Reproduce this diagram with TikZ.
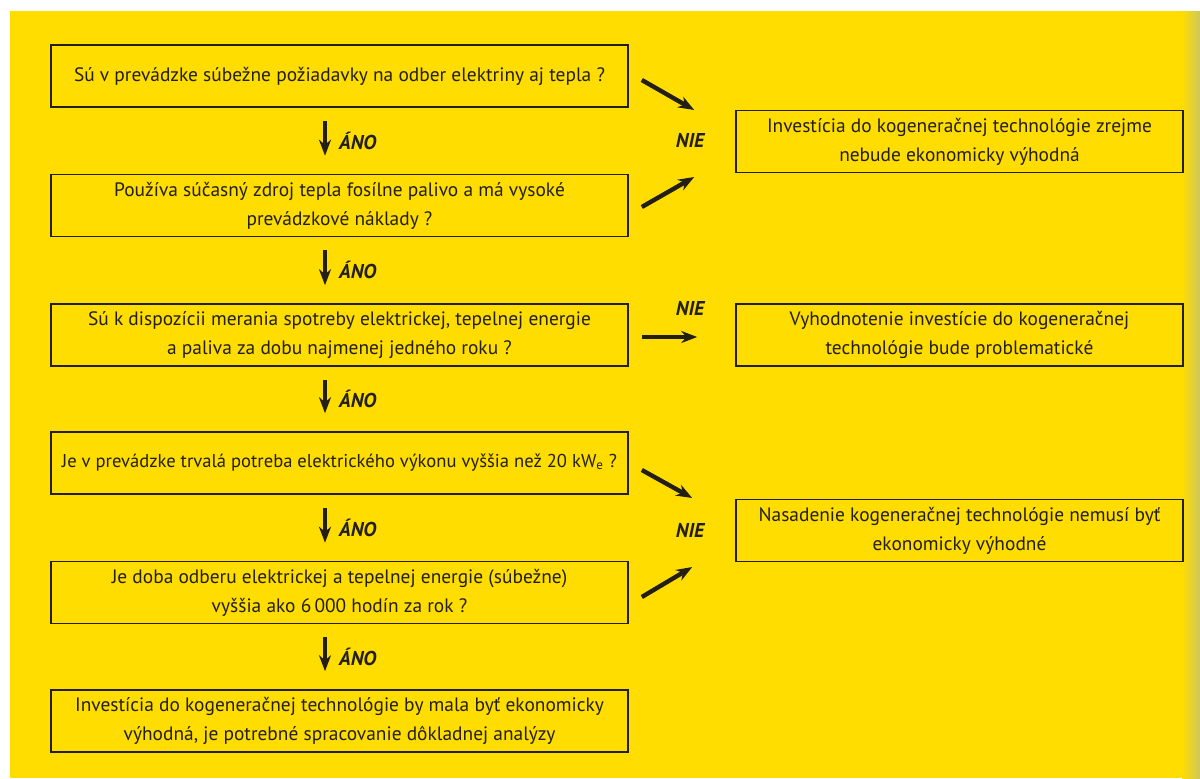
\documentclass[tikz,border=0pt]{standalone}
\usepackage{fontspec}
\setmainfont{PT Sans}
\usetikzlibrary{arrows.meta}
\definecolor{pageyellow}{RGB}{255,221,0}
\definecolor{edgegray}{RGB}{205,200,95}
\definecolor{inkdark}{RGB}{35,31,20}
\tikzset{
  qbox/.style={draw=inkdark, line width=0.8pt, minimum width=288.5pt, minimum height=31pt,
    inner sep=0pt, align=center, font=\fontsize{9.7}{14.5}\selectfont, text=inkdark},
  rbox/.style={qbox, minimum width=223.5pt},
  yesarrow/.style={line width=2.2pt, draw=inkdark, -{Stealth[length=8pt,width=6pt]}},
  noarrow/.style={yesarrow},
  answer/.style={font=\fontsize{10}{12}\selectfont\bfseries\itshape, text=inkdark, inner sep=0pt},
}

\begin{document}
\begin{tikzpicture}[x=0.5pt,y=-0.5pt]
  \useasboundingbox (0,0) rectangle (1200,778);
  \fill[pageyellow] (10,11) rectangle (1182,778);
  \shade[left color=pageyellow, right color=edgegray] (1182,11) rectangle (1200,778);

  % questions
  \node[qbox] (q1) at (339.5,76) {Sú v prevádzke súbežne požiadavky na odber elektriny aj tepla ?};
  \node[qbox] (q2) at (339.5,205.5) {Používa súčasný zdroj tepla fosílne palivo a má vysoké\\ prevádzkové náklady ?};
  \node[qbox] (q3) at (339.5,335) {Sú k dispozícii merania spotreby elektrickej, tepelnej energie\\ a paliva za dobu najmenej jedného roku ?};
  \node[qbox, font=\fontsize{9.3}{14.5}\selectfont] (q4) at (339.5,463) {Je v prevádzke trvalá potreba elektrického výkonu vyššia než 20 kW\textsubscript{e} ?};
  \node[qbox] (q5) at (339.5,592.5) {Je doba odberu elektrickej a tepelnej energie (súbežne)\\ vyššia ako 6\,000 hodín za rok ?};
  \node[qbox] (q6) at (339.5,721) {Investícia do kogeneračnej technológie by mala byť ekonomicky\\ výhodná, je potrebné spracovanie dôkladnej analýzy};

  % outcomes
  \node[rbox] (r1) at (959.5,141.5) {Investícia do kogeneračnej technológie zrejme\\ nebude ekonomicky výhodná};
  \node[rbox] (r2) at (959.5,335) {Vyhodnotenie investície do kogeneračnej\\ technológie bude problematické};
  \node[rbox] (r3) at (959.5,530.5) {Nasadenie kogeneračnej technológie nemusí byť\\ ekonomicky výhodné};

  % yes branch
  \foreach \a/\b in {q1/q2,q2/q3,q3/q4,q4/q5,q5/q6}
    \draw[yesarrow, shorten <=6.5pt, shorten >=9pt] ([xshift=-7.25pt]\a.south) -- ([xshift=-7.25pt]\b.north)
      node[answer, midway, right=6pt] {ÁNO};

  % no branch
  \draw[noarrow] ([shift={(13,4)}]q1.east) -- ([shift={(-41,-31.5)}]r1.west);
  \draw[noarrow] ([shift={(13,1.5)}]q2.east) -- ([shift={(-41,35.5)}]r1.west);
  \draw[noarrow] ([shift={(13,2)}]q3.east) -- ([shift={(-38,2)}]r2.west);
  \draw[noarrow] ([shift={(13,7)}]q4.east) -- ([shift={(-43,-32.5)}]r3.west);
  \draw[noarrow] ([shift={(13,4.5)}]q5.east) -- ([shift={(-43,36.5)}]r3.west);
  \node[answer] (nie1) at (690,140) {NIE};
  \node[answer] (nie2) at (690,308) {NIE};
  \node[answer] (nie3) at (690,530) {NIE};
\end{tikzpicture}
\end{document}
